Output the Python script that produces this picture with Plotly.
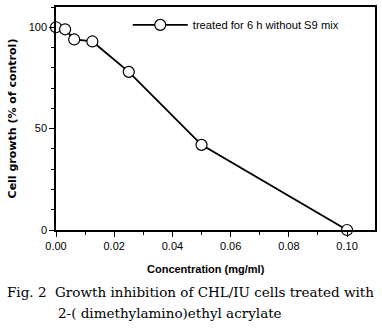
import plotly.graph_objects as go

# Concentration series (two-fold dilutions) and cell growth relative to control
concentration = [0.0, 0.003125, 0.00625, 0.0125, 0.025, 0.05, 0.1]
cell_growth = [100, 99, 94, 93, 78, 42, 0]
series_name = "treated for 6 h without S9 mix"

x_ticks = [0.0, 0.02, 0.04, 0.06, 0.08, 0.10]
x_tick_text = ["0.00", "0.02", "0.04", "0.06", "0.08", "0.10"]
y_ticks = [0, 50, 100]

SANS = "Liberation Sans, Arial"
WIDE_SANS = "DejaVu Sans, Verdana"
SERIF = "DejaVu Serif, Liberation Serif"

fig = go.Figure()
fig.add_trace(go.Scatter(
    x=concentration, y=cell_growth, name=series_name,
    mode="lines+markers",
    line=dict(color="black", width=1.8),
    marker=dict(symbol="circle", size=11, color="white",
                line=dict(color="black", width=1.2)),
    cliponaxis=False,
))

axis_common = dict(
    showgrid=False, zeroline=False, showline=True, linecolor="black",
    linewidth=1.5, mirror=True, ticks="outside", ticklen=5, tickwidth=1,
    tickcolor="black", tickfont=dict(family=SANS, size=11, color="black"),
)

fig.update_layout(
    width=382, height=333,
    margin=dict(l=56, r=7, t=5, b=103),
    paper_bgcolor="white", plot_bgcolor="white",
    showlegend=True,
    legend=dict(x=0.225, y=0.985, xanchor="left", yanchor="top",
                bgcolor="rgba(0,0,0,0)", borderwidth=0,
                font=dict(family=SANS, size=11.2, color="black"),
                itemwidth=55),
    xaxis=dict(range=[0, 0.1096], tickvals=x_ticks, ticktext=x_tick_text,
               minor=dict(ticks="outside", ticklen=3, dtick=0.01, tick0=0,
                          tickcolor="black", tickwidth=1),
               **axis_common),
    yaxis=dict(range=[0, 110], tickvals=y_ticks,
               minor=dict(ticks="outside", ticklen=3, dtick=10, tick0=0,
                          tickcolor="black", tickwidth=1),
               **axis_common),
    font=dict(family=SANS, color="black"),
)

# Axis titles
fig.add_annotation(text="<b>Concentration (mg/ml)</b>", xref="paper", yref="paper",
                   x=0.47, y=-0.175, xanchor="center", yanchor="middle",
                   showarrow=False, font=dict(family=SANS, size=11))
fig.add_annotation(text="<b>Cell growth (% of control)</b>", xref="paper", yref="paper",
                   x=-0.135, y=0.5, xanchor="center", yanchor="middle", textangle=-90,
                   showarrow=False, font=dict(family=WIDE_SANS, size=11))

# Figure caption
fig.add_annotation(text="Fig. 2  Growth inhibition of CHL/IU cells treated with",
                   xref="paper", yref="paper", x=-0.16, y=-0.28, xanchor="left",
                   yanchor="middle", showarrow=False,
                   font=dict(family=SERIF, size=13.5))
fig.add_annotation(text="2-( dimethylamino)ethyl acrylate",
                   xref="paper", yref="paper", x=0.0, y=-0.37, xanchor="left",
                   yanchor="middle", showarrow=False,
                   font=dict(family=SERIF, size=13.5))

fig.write_html("out.html")
